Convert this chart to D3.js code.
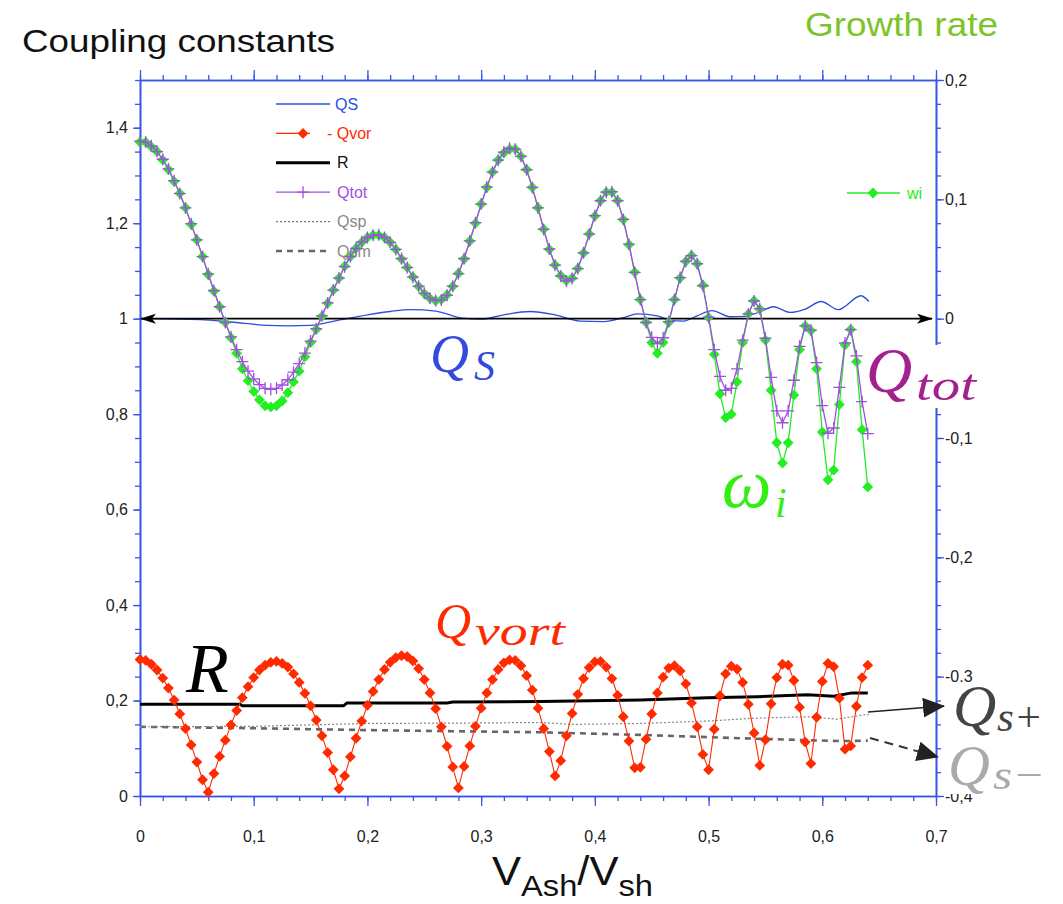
<!DOCTYPE html>
<html>
<head>
<meta charset="utf-8">
<script src="https://cdn.jsdelivr.net/npm/d3@7"></script>
<style>
  body { margin: 0; background: #fff; }
  svg text { font-family: "Liberation Sans", Arial, sans-serif; }
  .math { font-family: "Liberation Serif", "DejaVu Serif", serif; font-style: italic; }
</style>
</head>
<body>
<div id="chart"></div>
<script>
// sample points (v_Ash / v_sh) shared by the marker series
const xs = [0,0.005,0.01,0.015,0.02,0.025,0.03,0.035,0.04,0.045,0.05,0.055,0.06,0.065,0.07,0.075,0.08,0.085,0.09,0.095,
  0.1,0.105,0.11,0.115,0.12,0.125,0.13,0.135,0.14,0.145,0.15,0.155,0.16,0.165,0.17,0.175,0.18,0.185,0.19,0.195,
  0.2,0.205,0.21,0.215,0.22,0.225,0.23,0.235,0.24,0.245,0.25,0.255,0.26,0.265,0.27,0.275,0.28,0.285,0.29,0.295,
  0.3,0.305,0.31,0.315,0.32,0.325,0.33,0.335,0.34,0.345,0.35,0.355,0.36,0.365,0.37,0.375,0.38,0.385,0.39,0.395,
  0.4,0.405,0.41,0.415,0.42,0.425,0.43,0.435,0.44,0.445,0.45,0.455,0.46,0.465,0.47,0.475,0.48,0.485,0.49,0.495,
  0.5,0.505,0.51,0.515,0.52,0.525,0.53,0.535,0.54,0.545,0.55,0.555,0.56,0.565,0.57,0.575,0.58,0.585,0.59,0.595,
  0.6,0.605,0.61,0.615,0.62,0.625,0.63,0.635,0.64];

// Qtot (left axis)
const qtot = [1.372,1.370,1.362,1.350,1.334,1.314,1.289,1.262,1.232,1.199,1.165,1.130,1.094,1.059,1.025,0.992,0.962,0.935,0.910,0.890,
  0.874,0.862,0.854,0.852,0.854,0.861,0.872,0.888,0.906,0.928,0.953,0.979,1.006,1.033,1.060,1.085,1.109,1.130,1.147,1.161,
  1.170,1.175,1.176,1.170,1.160,1.145,1.126,1.107,1.087,1.068,1.053,1.043,1.038,1.039,1.049,1.068,1.094,1.126,1.163,1.201,
  1.240,1.276,1.307,1.332,1.349,1.357,1.355,1.340,1.312,1.275,1.232,1.187,1.146,1.112,1.089,1.079,1.084,1.105,1.138,1.177,
  1.216,1.247,1.265,1.266,1.247,1.208,1.156,1.097,1.040,0.992,0.961,0.948,0.960,0.994,1.040,1.086,1.120,1.132,1.115,1.069,
  1.003,0.935,0.879,0.850,0.854,0.895,0.955,1.010,1.037,1.021,0.959,0.877,0.807,0.782,0.807,0.871,0.942,0.985,0.976,0.908,
  0.818,0.760,0.771,0.856,0.949,0.977,0.922,0.826,0.759];

// wi, growth rate (right axis)
const wi = [0.148,0.148,0.144,0.140,0.133,0.125,0.115,0.105,0.093,0.079,0.066,0.052,0.037,0.023,0.010,-0.003,-0.016,-0.029,-0.042,-0.052,
  -0.061,-0.068,-0.073,-0.074,-0.073,-0.069,-0.062,-0.053,-0.044,-0.032,-0.020,-0.009,0.002,0.013,0.024,0.034,0.044,0.052,0.059,0.064,
  0.068,0.070,0.070,0.068,0.064,0.058,0.050,0.043,0.035,0.027,0.021,0.017,0.015,0.016,0.020,0.027,0.038,0.050,0.065,0.080,
  0.096,0.110,0.123,0.133,0.139,0.142,0.142,0.136,0.125,0.110,0.093,0.075,0.058,0.045,0.036,0.032,0.034,0.042,0.055,0.071,
  0.086,0.099,0.106,0.106,0.099,0.083,0.062,0.039,0.016,-0.003,-0.020,-0.029,-0.020,-0.003,0.016,0.034,0.048,0.053,0.046,0.028,
  0.001,-0.030,-0.063,-0.083,-0.080,-0.053,-0.020,0.004,0.015,0.008,-0.018,-0.060,-0.104,-0.121,-0.104,-0.064,-0.026,-0.006,-0.010,-0.042,
  -0.095,-0.135,-0.127,-0.072,-0.022,-0.009,-0.036,-0.093,-0.141];

// -Qvor (left axis)
const qvor = [0.286,0.284,0.276,0.264,0.247,0.226,0.201,0.172,0.141,0.107,0.071,0.034,0.008,0.047,0.083,0.117,0.149,0.179,0.206,0.229,
  0.248,0.264,0.274,0.280,0.282,0.278,0.270,0.256,0.238,0.215,0.189,0.159,0.126,0.091,0.055,0.015,0.042,0.082,0.121,0.157,
  0.190,0.219,0.244,0.265,0.280,0.290,0.294,0.292,0.283,0.267,0.244,0.216,0.183,0.145,0.104,0.061,0.017,0.062,0.105,0.146,
  0.184,0.216,0.244,0.265,0.279,0.285,0.284,0.273,0.252,0.222,0.184,0.141,0.093,0.042,0.074,0.126,0.173,0.213,0.246,0.269,
  0.281,0.282,0.270,0.246,0.211,0.166,0.115,0.059,0.060,0.119,0.172,0.216,0.249,0.268,0.273,0.262,0.235,0.195,0.145,0.087,
  0.055,0.140,0.210,0.256,0.272,0.266,0.238,0.192,0.132,0.064,0.118,0.193,0.248,0.276,0.274,0.242,0.186,0.113,0.068,0.165,
  0.240,0.278,0.271,0.205,0.098,0.105,0.188,0.248,0.274];

// QS (left axis, plain line)
const qsX = [0,0.053,0.08,0.112,0.13,0.15,0.173,0.2,0.22,0.238,0.26,0.284,0.3,0.32,0.343,0.365,0.387,0.408,0.425,0.4375,
  0.455,0.467,0.478,0.49,0.503,0.519,0.532,0.546,0.557,0.572,0.585,0.599,0.614,0.634,0.641];
const qsY = [1.0,0.998,0.993,0.986,0.985,0.986,0.996,1.008,1.015,1.019,1.016,1.001,0.999,1.008,1.015,1.008,0.995,0.994,1.002,1.010,
  1.006,0.996,0.995,1.006,1.017,1.004,1.005,1.015,1.025,1.013,1.020,1.036,1.019,1.048,1.036];

// R
const rX = [0,0.088,0.09,0.179,0.182,0.27,0.275,0.352,0.44,0.499,0.543,0.587,0.61,0.626,0.64];
const rY = [0.192,0.192,0.189,0.189,0.195,0.195,0.197,0.198,0.201,0.206,0.208,0.212,0.209,0.216,0.216];

// Qsp (dotted) and Qsm (dashed)
const qspX = [0,0.1,0.2,0.3,0.352,0.381,0.44,0.499,0.54,0.587,0.613,0.637,0.641];
const qspY = [0.145,0.146,0.152,0.153,0.154,0.150,0.152,0.157,0.163,0.166,0.161,0.170,0.171];
const qsmX = [0,0.1,0.2,0.3,0.352,0.44,0.528,0.616,0.64];
const qsmY = [0.145,0.142,0.138,0.135,0.1335,0.128,0.121,0.115,0.116];

const legendNames = ['QS', '- Qvor', 'R', 'Qtot', 'Qsp', 'Qsm'];

// ---------------------------------------------------------------
const width = 1063, height = 904;
const plot = {left: 140, right: 936, top: 80, bottom: 796};
const axisBlue = '#3657e6';
const cBlue = '#2d4fe0', cRed = '#ff2a00', cPurple = '#a24ee0', cGreen = '#22ee22';

const svg = d3.select('#chart').append('svg')
  .attr('width', width)
  .attr('height', height);

const x = d3.scaleLinear().domain([0, 0.7]).range([plot.left, plot.right]);
const yL = d3.scaleLinear().domain([0, 1.5]).range([plot.bottom, plot.top]);
const yR = d3.scaleLinear().domain([-0.4, 0.2]).range([plot.bottom, plot.top]);

const fmt = d => String(+d.toFixed(2)).replace('.', ',');
const steps = (a, b, s) => d3.range(Math.round((b - a) / s) + 1).map(i => +(a + i * s).toFixed(3));

function styleAxis(g, labels) {
  g.select('.domain').attr('stroke', axisBlue).attr('stroke-width', 1.6);
  g.selectAll('.tick line').attr('stroke', axisBlue).attr('stroke-width', 1.3);
  g.selectAll('.tick text')
    .attr('fill', '#222')
    .style('font-size', '16px')
    .attr('display', labels ? null : 'none');
}

function drawAxis(axisFn, scale, majors, minors, bigTick, smallTick, pad, transform) {
  svg.append('g').attr('transform', transform)
    .call(axisFn(scale).tickValues(minors).tickSize(smallTick).tickSizeOuter(0).tickFormat(''))
    .call(g => styleAxis(g, false));
  let g = svg.append('g').attr('transform', transform)
    .call(axisFn(scale).tickValues(majors).tickSize(bigTick).tickSizeOuter(0).tickPadding(pad).tickFormat(fmt))
    .call(g => styleAxis(g, true));
  return g;
}

// axes (under the data)
drawAxis(d3.axisBottom, x, steps(0, 0.7, 0.1), steps(0, 0.7, 0.02), 10, 5, 25, `translate(0,${plot.bottom})`);
drawAxis(d3.axisTop, x, steps(0, 0.7, 0.1), steps(0, 0.7, 0.02), 10, 5, 3, `translate(0,${plot.top})`)
  .selectAll('.tick text').attr('display', 'none');
drawAxis(d3.axisLeft, yL, steps(0, 1.4, 0.2), steps(0, 1.5, 0.05), 7, 5, 5, `translate(${plot.left},0)`);
drawAxis(d3.axisRight, yR, steps(-0.4, 0.2, 0.1), steps(-0.4, 0.2, 0.02), 8, 5, 1, `translate(${plot.right},0)`);

// titles
svg.append('text').attr('x', 22).attr('y', 52)
  .attr('textLength', 313).attr('lengthAdjust', 'spacingAndGlyphs')
  .style('font-size', '32px').attr('fill', '#111').text('Coupling constants');
svg.append('text').attr('x', 805).attr('y', 36)
  .attr('textLength', 193).attr('lengthAdjust', 'spacingAndGlyphs')
  .style('font-size', '33px').attr('fill', '#7cc42a').text('Growth rate');

let xlab = svg.append('text').attr('x', 492).attr('y', 885).attr('fill', '#111')
  .attr('textLength', 161).attr('lengthAdjust', 'spacingAndGlyphs');
xlab.append('tspan').style('font-size', '40px').text('V');
xlab.append('tspan').style('font-size', '30px').attr('dy', 11).text('Ash');
xlab.append('tspan').style('font-size', '40px').attr('dy', -11).text('/V');
xlab.append('tspan').style('font-size', '30px').attr('dy', 11).text('sh');

// legend (drawn first, curves go over it)
const diamond = 'M0,-5.4L5.4,0L0,5.4L-5.4,0Z';
const plus = 'M-6,0H6M0,-6V6';
const legY = d3.scaleLinear().domain([0, 5]).range([104, 251]);
const legStyles = [
  {color: cBlue, width: 1.3, dash: null, marker: null, text: cBlue, tx: 335, x2: 330},
  {color: cRed, width: 1.2, dash: null, marker: 'diamond', text: cRed, tx: 327, x2: 310},
  {color: '#000', width: 3, dash: null, marker: null, text: '#111', tx: 337, x2: 330},
  {color: cPurple, width: 1.3, dash: null, marker: 'plus', text: cPurple, tx: 337, x2: 330},
  {color: '#777', width: 1.2, dash: '2,2', marker: null, text: '#888', tx: 337, x2: 330},
  {color: '#666', width: 2.6, dash: '6,5', marker: null, text: '#888', tx: 337, x2: 330}
];
legendNames.forEach((name, i) => {
  let s = legStyles[i], yy = legY(i);
  let lg = svg.append('g').attr('class', 'legend');
  lg.append('line').attr('x1', 276).attr('x2', s.x2).attr('y1', yy).attr('y2', yy)
    .attr('stroke', s.color).attr('stroke-width', s.width).attr('stroke-dasharray', s.dash);
  if (s.marker == 'diamond') lg.append('path').attr('d', diamond).attr('transform', `translate(303,${yy})`).attr('fill', s.color);
  if (s.marker == 'plus') lg.append('path').attr('d', plus).attr('transform', `translate(303,${yy})`).attr('stroke', s.color).attr('stroke-width', 1.3);
  lg.append('text').attr('x', s.tx).attr('y', yy).attr('dy', '0.35em')
    .style('font-size', '16px').attr('fill', s.text).text(name);
});
// wi legend on the right
svg.append('line').attr('x1', 847).attr('x2', 900).attr('y1', 193).attr('y2', 193)
  .attr('stroke', cGreen).attr('stroke-width', 1.3);
svg.append('path').attr('d', diamond).attr('transform', 'translate(873,193)').attr('fill', cGreen);
svg.append('text').attr('x', 907).attr('y', 193).attr('dy', '0.35em')
  .style('font-size', '16px').attr('fill', cGreen).text('wi');

// ---- curves ----
const lineL = d3.line().x(d => x(d[0])).y(d => yL(d[1]));
const lineR = d3.line().x(d => x(d[0])).y(d => yR(d[1]));
const zip = (a, b) => a.map((v, i) => [v, b[i]]);

// Qsm, Qsp, R
svg.append('path').datum(zip(qsmX, qsmY)).attr('d', lineL)
  .attr('fill', 'none').attr('stroke', '#666').attr('stroke-width', 2.6).attr('stroke-dasharray', '6,5');
svg.append('path').datum(zip(qspX, qspY)).attr('d', lineL)
  .attr('fill', 'none').attr('stroke', '#888').attr('stroke-width', 1.2).attr('stroke-dasharray', '2,2');
svg.append('path').datum(zip(rX, rY)).attr('d', lineL)
  .attr('fill', 'none').attr('stroke', '#000').attr('stroke-width', 3);

// -Qvor
let vorData = zip(xs, qvor);
svg.append('path').datum(vorData).attr('d', lineL)
  .attr('fill', 'none').attr('stroke', cRed).attr('stroke-width', 1.1);
svg.append('g').selectAll('path').data(vorData).join('path')
  .attr('d', diamond).attr('fill', cRed)
  .attr('transform', d => `translate(${x(d[0])},${yL(d[1])})`);

// QS
svg.append('path').datum(zip(qsX, qsY)).attr('d', lineL.curve(d3.curveMonotoneX))
  .attr('fill', 'none').attr('stroke', cBlue).attr('stroke-width', 1.3);
lineL.curve(d3.curveLinear);

// double arrow on the Q = 1 / wi = 0 level
svg.append('defs').html(
  '<marker id="ah" viewBox="0 0 16 10" refX="15" refY="5" markerWidth="16" markerHeight="10" markerUnits="userSpaceOnUse" orient="auto-start-reverse">' +
  '<path d="M0,0L16,5L0,10L4,5Z" fill="#000"/></marker>' +
  '<marker id="bh" viewBox="0 0 22 20" refX="21" refY="10" markerWidth="22" markerHeight="20" markerUnits="userSpaceOnUse" orient="auto">' +
  '<path d="M0,0L22,10L0,20Z" fill="#222"/></marker>');
svg.append('line')
  .attr('x1', x(0) + 1).attr('x2', x(0.7) - 4)
  .attr('y1', yL(1)).attr('y2', yL(1))
  .attr('stroke', '#000').attr('stroke-width', 1.6)
  .attr('marker-start', 'url(#ah)').attr('marker-end', 'url(#ah)');

// wi (green) under Qtot (purple)
let wiData = zip(xs, wi);
svg.append('path').datum(wiData).attr('d', lineR)
  .attr('fill', 'none').attr('stroke', cGreen).attr('stroke-width', 1.3);
svg.append('g').selectAll('path').data(wiData).join('path')
  .attr('d', diamond).attr('fill', cGreen)
  .attr('transform', d => `translate(${x(d[0])},${yR(d[1])})`);

let totData = zip(xs, qtot);
svg.append('path').datum(totData).attr('d', lineL)
  .attr('fill', 'none').attr('stroke', cPurple).attr('stroke-width', 1.3);
svg.append('g').selectAll('path').data(totData).join('path')
  .attr('d', plus).attr('fill', 'none').attr('stroke', cPurple).attr('stroke-width', 1.3)
  .attr('transform', d => `translate(${x(d[0])},${yL(d[1])})`);

// arrows pointing at Qs+ / Qs-
svg.append('line').attr('x1', 868).attr('y1', 712).attr('x2', 944).attr('y2', 706)
  .attr('stroke', '#222').attr('stroke-width', 1.6).attr('marker-end', 'url(#bh)');
svg.append('line').attr('x1', 870).attr('y1', 738).attr('x2', 938).attr('y2', 757)
  .attr('stroke', '#333').attr('stroke-width', 2).attr('stroke-dasharray', '9,6').attr('marker-end', 'url(#bh)');

// ---- math annotations (pasted on white, like the original) ----
function mathLabel(x0, y0, main, size, sx, sy, sub, subSize, subLen, color) {
  svg.append('text').attr('class', 'math').attr('x', x0).attr('y', y0)
    .style('font-size', size + 'px').attr('fill', color).text(main);
  if (sub) {
    let t = svg.append('text').attr('class', 'math').attr('x', sx).attr('y', sy)
      .style('font-size', subSize + 'px').attr('fill', color).text(sub);
    if (subLen) t.attr('textLength', subLen).attr('lengthAdjust', 'spacingAndGlyphs');
  }
}

svg.append('rect').attr('x', 867).attr('y', 345).attr('width', 115).attr('height', 63).attr('fill', '#fff');
svg.append('rect').attr('x', 948).attr('y', 682).attr('width', 104).attr('height', 54).attr('fill', '#fff');
svg.append('rect').attr('x', 945).attr('y', 743).attr('width', 107).attr('height', 51).attr('fill', '#fff');
mathLabel(430, 372, 'Q', 54, 474, 380, 'S', 42, null, '#3349e0');
mathLabel(866, 392, 'Q', 64, 916, 400, 'tot', 44, 60, '#a3208f');
mathLabel(722, 507, 'ω', 70, 775, 517, 'i', 42, null, '#33ee11');
mathLabel(435, 638, 'Q', 50, 475, 645, 'vort', 40, 90, '#ff2a00');
mathLabel(186, 692, 'R', 70, 0, 0, null, 0, null, '#000');
mathLabel(953, 726, 'Q', 60, 997, 731, 's+', 42, 46, '#444');
mathLabel(948, 785, 'Q', 58, 993, 789, 's−', 42, 52, '#aaa');
</script>
</body>
</html>
